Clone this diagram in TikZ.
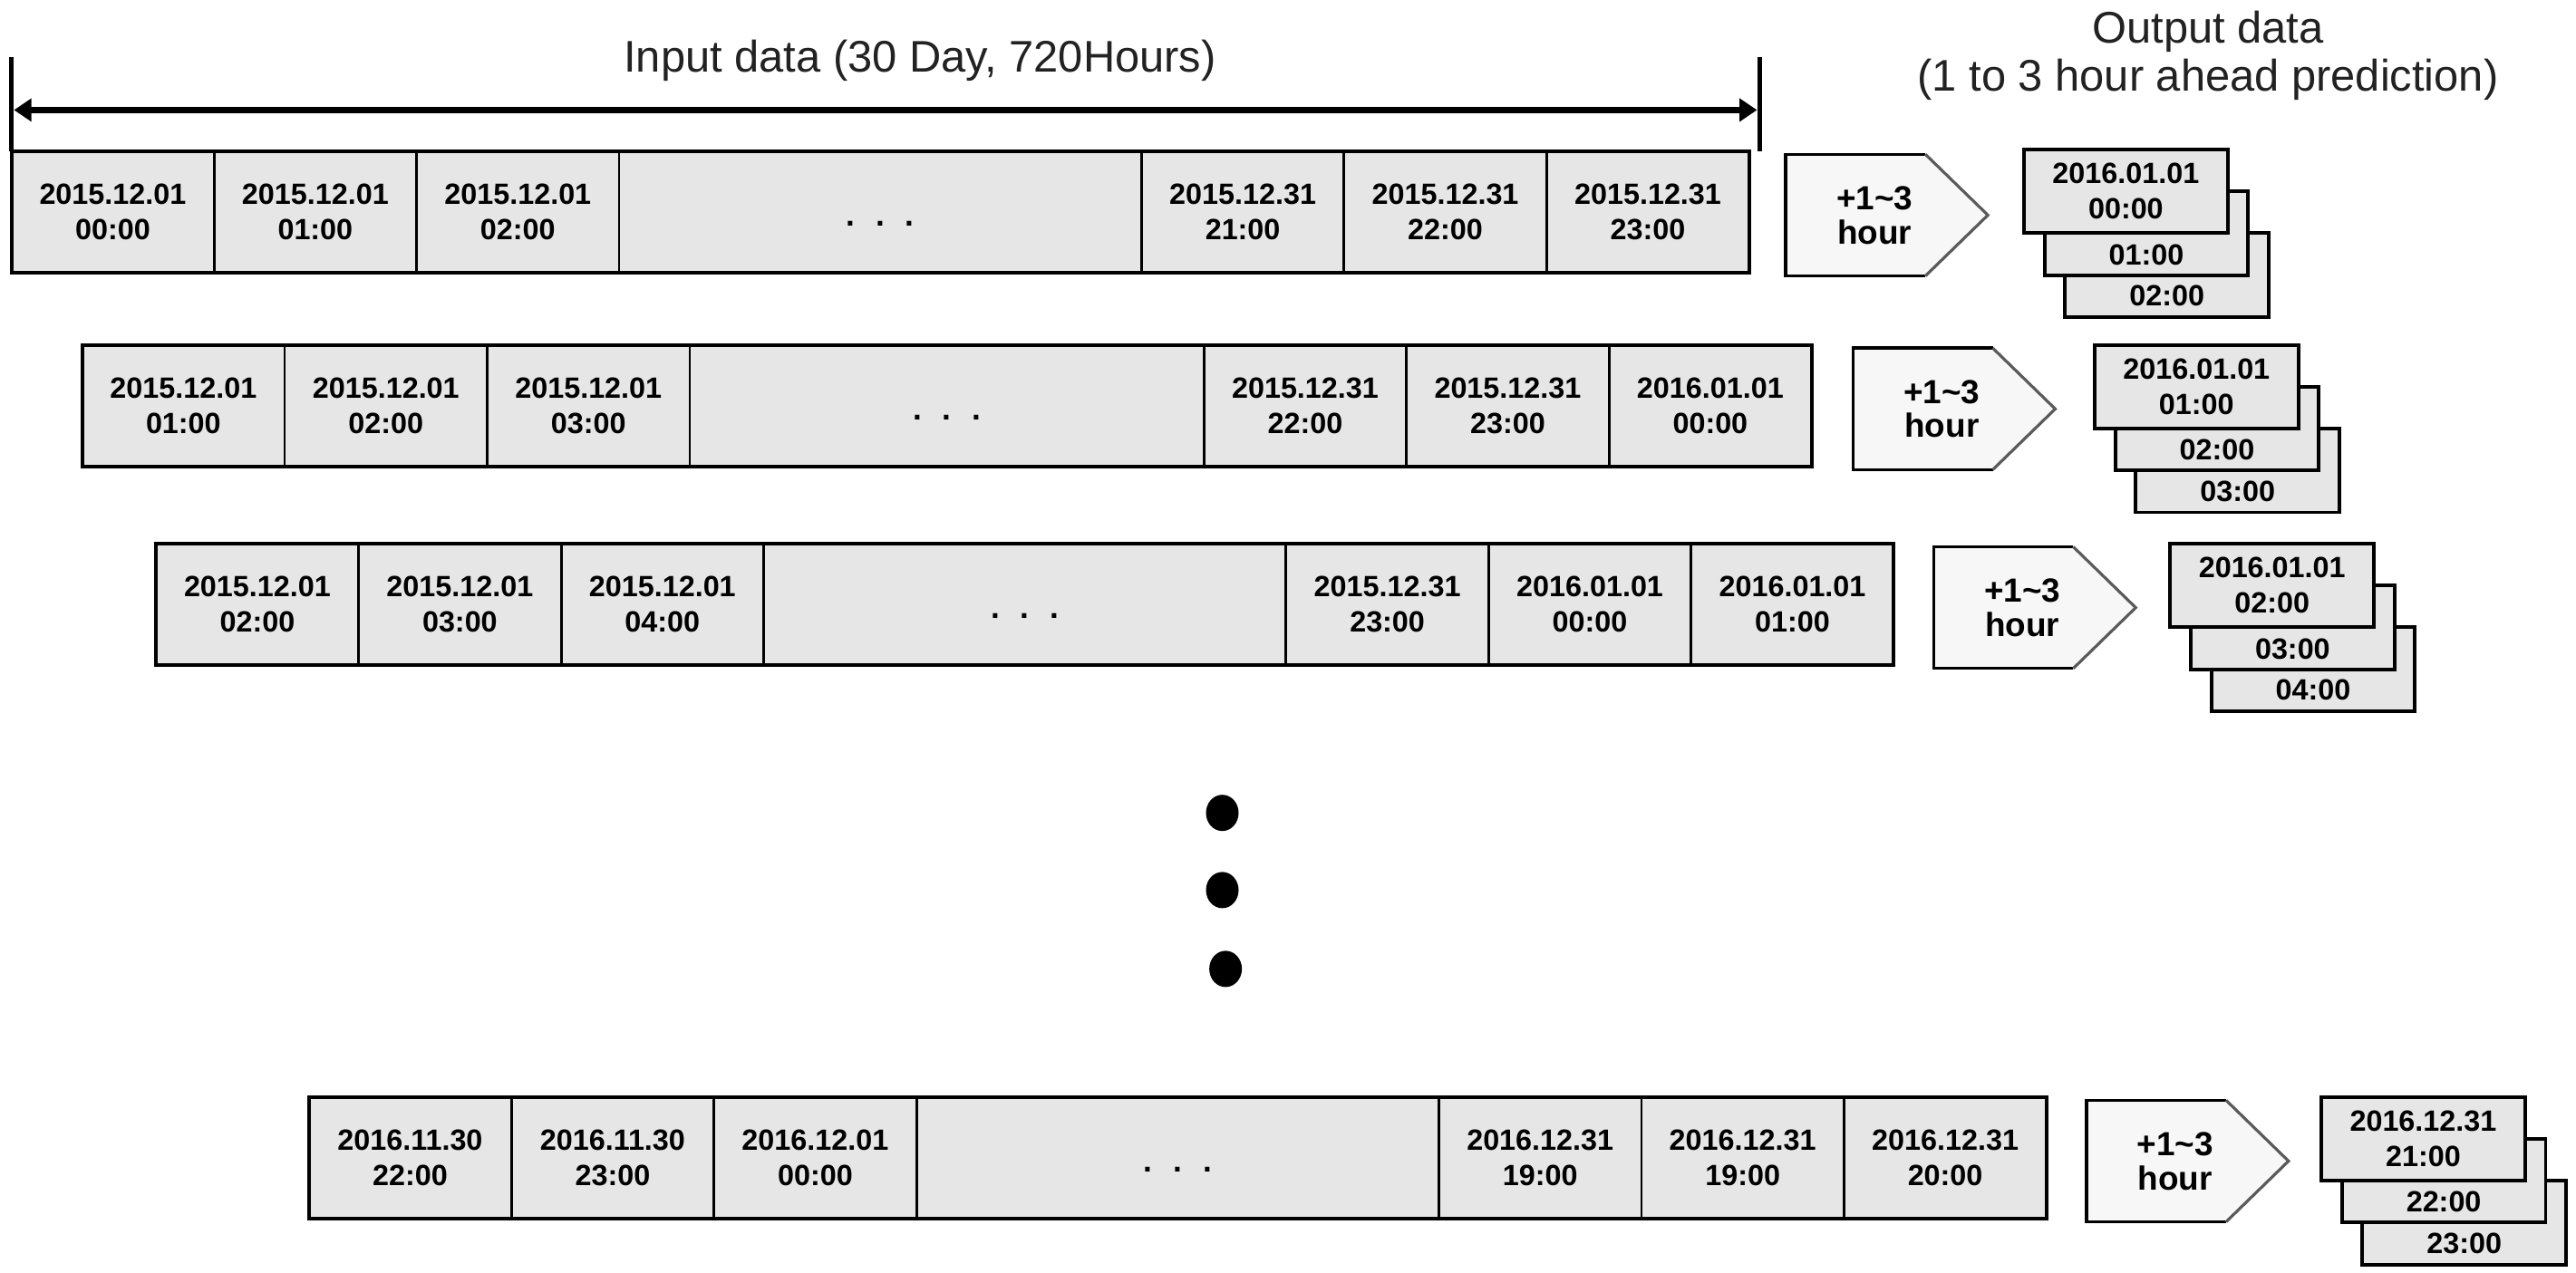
\documentclass[tikz,border=0pt]{standalone}
\usepackage{fontspec}
\setmainfont{Liberation Sans}
\usetikzlibrary{arrows.meta,shapes.geometric}
\definecolor{cellgray}{HTML}{E6E6E6}
\definecolor{pentfill}{HTML}{F7F7F7}
\definecolor{diaggray}{HTML}{5A5A5A}
\definecolor{titlegray}{HTML}{222222}
\newcommand\cellfont{\bfseries\fontsize{9.2}{11.2}\selectfont}
\newcommand\pentfont{\bfseries\fontsize{10.5}{10.8}\selectfont}
\newcommand\titlefont{\fontsize{13.9}{15}\selectfont}
\def\midw{5.7638cm}
\tikzset{
  cell/.style={draw=black, line width=0.8pt, fill=cellgray, minimum width=2.2348cm,
    minimum height=1.3413cm, inner sep=0pt, outer sep=0pt, align=center, font=\cellfont},
  dotstext/.style={inner sep=0pt, font=\bfseries\fontsize{10}{10}\selectfont},
  rowframe/.style={draw=black, line width=1.2pt},
  outbox/.style={draw=black, line width=1.1pt, fill=cellgray, minimum width=2.2475cm,
    minimum height=0.9244cm, inner sep=0pt, outer sep=0pt, align=center, font=\cellfont},
  outtext/.style={inner sep=0pt, font=\cellfont},
  pentedge/.style={draw=black, line width=1pt},
  pentdiag/.style={draw=diaggray, line width=0.9pt},
  penttext/.style={inner sep=0pt, align=center, font=\pentfont},
  titletext/.style={inner sep=0pt, align=center, font=\titlefont, text=titlegray},
  spanbar/.style={draw=black, line width=1.5pt},
  spanarrow/.style={draw=black, line width=2pt, {Triangle[length=5.5pt,width=7pt]}-{Triangle[length=5.5pt,width=7pt]}},
  bigdot/.style={ellipse, fill=black, minimum width=0.36cm, minimum height=0.4cm, inner sep=0pt}
}
% id, x0, ytop, six labels
\newcommand\datarow[9]{%
  \node[cell,anchor=north west] (#1c1) at (#2,#3) {#4};
  \node[cell,anchor=north west] (#1c2) at (#1c1.north east) {#5};
  \node[cell,anchor=north west] (#1c3) at (#1c2.north east) {#6};
  \node[cell,anchor=north west,minimum width=\midw] (#1c4) at (#1c3.north east) {};
  \node[dotstext] (#1dots) at ([yshift=-0.13cm]#1c4.center) {.\hskip6.5pt.\hskip6.5pt.};
  \node[cell,anchor=north west] (#1c5) at (#1c4.north east) {#7};
  \node[cell,anchor=north west] (#1c6) at (#1c5.north east) {#8};
  \node[cell,anchor=north west] (#1c7) at (#1c6.north east) {#9};
  \draw[rowframe] (#1c1.north west) rectangle (#1c7.south east);
}
% id, left, top
\newcommand\pent[3]{%
  \fill[pentfill] (#2,#3) -- ++(85,0) -- ++(38,37) -- ++(-38,37) -- ++(-85,0) -- cycle;
  \draw[pentedge] (#2+85,#3) -- (#2,#3) -- (#2,#3+74) -- (#2+85,#3+74);
  \draw[pentdiag] (#2+85,#3) -- (#2+123,#3+37) -- (#2+85,#3+74);
  \node[penttext] (#1) at (#2+54,#3+37) {+1\textasciitilde 3\\hour};
}
% id, x, y, date, t1, t2, t3
\newcommand\outstack[7]{%
  \node[outbox,anchor=north west] (#1C) at (#2+25,#3+51) {};
  \node[outtext] (#1Ct) at (#2+87,#3+89) {#7};
  \node[outbox,anchor=north west] (#1B) at (#2+12.5,#3+25.5) {};
  \node[outtext] (#1Bt) at (#2+74.5,#3+64) {#6};
  \node[outbox,anchor=north west] (#1A) at (#2,#3) {#4\\#5};
}
\begin{document}
\begin{tikzpicture}[x=0.018125cm,y=-0.018125cm]
\fill[white] (0,0) rectangle (1568,775);
\useasboundingbox (0,0) rectangle (1568,775);

% titles
\node[titletext] (intitle) at (560,37) {Input data (30 Day, 720Hours)};
\node[titletext] (outtitle) at (1344,34) {Output data\\(1 to 3 hour ahead prediction)};

% span arrow
\coordinate (lbT) at (7,35);
\coordinate (lbB) at (7,92);
\coordinate (rbT) at (1071,35);
\coordinate (rbB) at (1071,92);
\coordinate (aL) at (8.5,67);
\coordinate (aR) at (1069.5,67);
\draw[spanbar] (lbT) -- (lbB);
\draw[spanbar] (rbT) -- (rbB);
\draw[spanarrow] (aL) -- (aR);

% row 1
\datarow{ra}{7}{92}{2015.12.01\\00:00}{2015.12.01\\01:00}{2015.12.01\\02:00}{2015.12.31\\21:00}{2015.12.31\\22:00}{2015.12.31\\23:00}
\pent{pa}{1087}{94}
\outstack{oa}{1232}{91}{2016.01.01}{00:00}{01:00}{02:00}

% row 2
\def\midw{5.673cm}
\datarow{rb}{50}{210}{2015.12.01\\01:00}{2015.12.01\\02:00}{2015.12.01\\03:00}{2015.12.31\\22:00}{2015.12.31\\23:00}{2016.01.01\\00:00}
\pent{pb}{1128}{212}
\outstack{ob}{1275}{210}{2016.01.01}{01:00}{02:00}{03:00}

% row 3
\def\midw{5.7638cm}
\datarow{rc}{95}{331}{2015.12.01\\02:00}{2015.12.01\\03:00}{2015.12.01\\04:00}{2015.12.31\\23:00}{2016.01.01\\00:00}{2016.01.01\\01:00}
\pent{pc}{1177}{333}
\outstack{oc}{1321}{331}{2016.01.01}{02:00}{03:00}{04:00}

% vertical dots
\node[bigdot] (d1) at (744,495) {};
\node[bigdot] (d2) at (744,542) {};
\node[bigdot] (d3) at (746,590) {};

% last row
\datarow{rd}{188}{668}{2016.11.30\\22:00}{2016.11.30\\23:00}{2016.12.01\\00:00}{2016.12.31\\19:00}{2016.12.31\\19:00}{2016.12.31\\20:00}
\pent{pd}{1270}{670}
\outstack{od}{1413}{668}{2016.12.31}{21:00}{22:00}{23:00}
\end{tikzpicture}
\end{document}
